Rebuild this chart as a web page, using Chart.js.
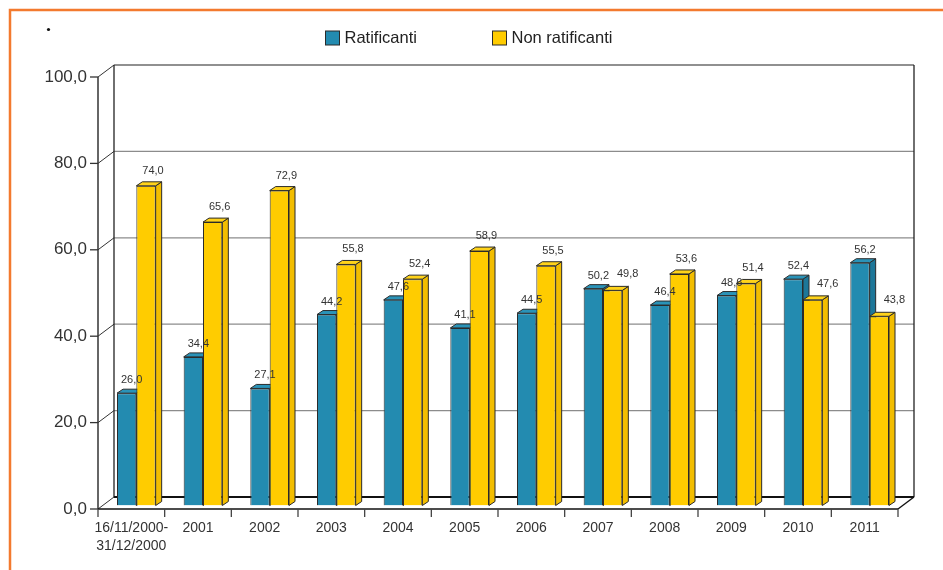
<!DOCTYPE html>
<html>
<head>
<meta charset="utf-8">
<script src="https://cdn.jsdelivr.net/npm/chart.js@4.4.0/dist/chart.umd.min.js"></script>
<style>
  html, body { margin: 0; padding: 0; background: #fff; }
  canvas { display: block; }
</style>
</head>
<body>
<canvas id="grafico" width="943" height="570"></canvas>
<script>
// dati
const categorie = [["16/11/2000-", "31/12/2000"], "2001", "2002", "2003", "2004", "2005", "2006", "2007", "2008", "2009", "2010", "2011"];
const ratificanti = [26.0, 34.4, 27.1, 44.2, 47.6, 41.1, 44.5, 50.2, 46.4, 48.6, 52.4, 56.2];
const nonRatificanti = [74.0, 65.6, 72.9, 55.8, 52.4, 58.9, 55.5, 49.8, 53.6, 51.4, 47.6, 43.8];
const tickAsseY = [0, 20, 40, 60, 80, 100];

const FONT = "'Liberation Sans', Arial, sans-serif";
const TESTO = "#333";
const BORDO = "#2b2b2b";

// offset prospettici rispetto al piano delle barre
const FRONTE = { dx: -5, dy: 3.5 };
const FONDO = { dx: 11, dy: -8.5 };
const PROF = { dx: 6, dy: -4 };

const colori = [
  { fronte: "#238bb0", lato: "#1d7799", sopra: "#2a93b8" },
  { fronte: "#ffcc00", lato: "#f2bd00", sopra: "#ffd31a" }
];

function formatVirgola(v) {
  return v.toFixed(1).replace(".", ",");
}

function linea(ctx, x1, y1, x2, y2) {
  ctx.beginPath();
  ctx.moveTo(x1, y1);
  ctx.lineTo(x2, y2);
  ctx.stroke();
}

// disegna lato e faccia superiore delle barre di un dataset
function disegna3D(chart, di) {
  const ctx = chart.ctx;
  const c = colori[di];
  ctx.save();
  ctx.strokeStyle = BORDO;
  ctx.lineWidth = 1;
  ctx.lineJoin = "round";
  chart.getDatasetMeta(di).data.forEach(bar => {
    const p = bar.getProps(["x", "y", "base", "width"], true);
    const l = p.x - p.width / 2, r = p.x + p.width / 2;
    // lato
    ctx.fillStyle = c.lato;
    ctx.beginPath();
    ctx.moveTo(r, p.y);
    ctx.lineTo(r + PROF.dx, p.y + PROF.dy);
    ctx.lineTo(r + PROF.dx, p.base + PROF.dy);
    ctx.lineTo(r, p.base);
    ctx.closePath();
    ctx.fill();
    ctx.stroke();
    // sopra
    ctx.fillStyle = c.sopra;
    ctx.beginPath();
    ctx.moveTo(l, p.y);
    ctx.lineTo(r, p.y);
    ctx.lineTo(r + PROF.dx, p.y + PROF.dy);
    ctx.lineTo(l + PROF.dx, p.y + PROF.dy);
    ctx.closePath();
    ctx.fill();
    ctx.stroke();
  });
  ctx.restore();
}

// cornice arancione, legenda e pareti 3D
const pluginCornice = {
  id: "cornice",
  beforeDatasetsDraw(chart) {
    const ctx = chart.ctx;
    const xs = chart.scales.x, ys = chart.scales.y;
    const fL = xs.left + FRONTE.dx, fR = xs.right + FRONTE.dx;
    const bL = xs.left + FONDO.dx, bR = xs.right + FONDO.dx;
    const y0 = ys.getPixelForValue(0), y100 = ys.getPixelForValue(100);
    ctx.save();

    // bordo arancione
    ctx.strokeStyle = "#f37a2e";
    ctx.lineWidth = 2.5;
    ctx.beginPath();
    ctx.moveTo(10, 570);
    ctx.lineTo(10, 10);
    ctx.lineTo(943, 10);
    ctx.stroke();

    // puntino
    ctx.fillStyle = "#111";
    ctx.beginPath();
    ctx.arc(48.5, 29.5, 1.6, 0, Math.PI * 2);
    ctx.fill();

    // griglia sulla parete di fondo + diagonali + tacche
    tickAsseY.forEach(v => {
      const py = ys.getPixelForValue(v);
      const yb = py + FONDO.dy, yf = py + FRONTE.dy;
      if (v > 0) {
        ctx.strokeStyle = v === 100 ? "#222" : "#8c8c8c";
        ctx.lineWidth = 1.2;
        linea(ctx, bL, yb, bR, yb);
      }
      ctx.strokeStyle = "#333";
      ctx.lineWidth = 1;
      linea(ctx, fL, yf, bL, yb);
      ctx.lineWidth = 1.3;
      linea(ctx, fL - 8, yf, fL, yf);
    });

    // pareti
    ctx.strokeStyle = "#222";
    ctx.lineWidth = 1.3;
    linea(ctx, bL, y100 + FONDO.dy, bL, y0 + FONDO.dy);
    linea(ctx, bR, y100 + FONDO.dy, bR, y0 + FONDO.dy);
    // asse verticale frontale
    ctx.strokeStyle = "#333";
    ctx.lineWidth = 1.5;
    linea(ctx, fL, y100 + FRONTE.dy, fL, y0 + FRONTE.dy);

    // pavimento
    ctx.strokeStyle = "#111";
    ctx.lineWidth = 2.2;
    linea(ctx, bL, y0 + FONDO.dy, bR, y0 + FONDO.dy);
    ctx.lineWidth = 1.4;
    linea(ctx, fL, y0 + FRONTE.dy, fR, y0 + FRONTE.dy);
    linea(ctx, fR, y0 + FRONTE.dy, bR, y0 + FONDO.dy);

    // tacche asse x ai confini delle categorie
    const passo = (xs.right - xs.left) / categorie.length;
    ctx.strokeStyle = "#444";
    ctx.lineWidth = 1.3;
    for (let i = 0; i <= categorie.length; i++) {
      const px = fL + i * passo;
      linea(ctx, px, y0 + FRONTE.dy, px, y0 + FRONTE.dy + 8);
    }

    // legenda
    const posLegenda = [325.5, 492.5];
    ctx.font = "16.5px " + FONT;
    ctx.textBaseline = "middle";
    ctx.textAlign = "left";
    chart.data.datasets.forEach((ds, i) => {
      const x = posLegenda[i];
      ctx.fillStyle = colori[i].fronte;
      ctx.fillRect(x, 31, 14, 14);
      ctx.strokeStyle = BORDO;
      ctx.lineWidth = 1;
      ctx.strokeRect(x, 31, 14, 14);
      ctx.fillStyle = "#222";
      ctx.fillText(ds.label, x + 19, 38.5);
    });

    ctx.restore();
  },

  // Chart.js disegna prima il dataset 1 (giallo), poi lo 0 (blu):
  // le facce 3D del blu vanno sotto il fronte giallo
  beforeDatasetDraw(chart, args) {
    if (args.index === 1) disegna3D(chart, 0);
  },

  afterDatasetDraw(chart, args) {
    if (args.index === 1) disegna3D(chart, 1);
  },

  // etichette dei valori
  afterDatasetsDraw(chart) {
    const ctx = chart.ctx;
    ctx.save();
    ctx.font = "11px " + FONT;
    ctx.fillStyle = TESTO;
    ctx.textAlign = "center";
    ctx.textBaseline = "alphabetic";
    chart.data.datasets.forEach((ds, di) => {
      const meta = chart.getDatasetMeta(di);
      meta.data.forEach((bar, i) => {
        let dx = 5, dy = -10;
        if (di === 1) {
          if (ratificanti[i] >= nonRatificanti[i] - 1) { dx = 15; dy = -13; }
          else { dx = 7; dy = -12; }
        }
        ctx.fillText(formatVirgola(ds.data[i]), bar.x + dx, bar.y + dy);
      });
    });
    ctx.restore();
  }
};

new Chart(document.getElementById("grafico"), {
  type: "bar",
  data: {
    labels: categorie,
    datasets: [
      {
        label: "Ratificanti",
        data: ratificanti,
        backgroundColor: colori[0].fronte,
        borderColor: BORDO,
        borderWidth: 1
      },
      {
        label: "Non ratificanti",
        data: nonRatificanti,
        backgroundColor: colori[1].fronte,
        borderColor: BORDO,
        borderWidth: 1
      }
    ]
  },
  options: {
    responsive: false,
    animation: false,
    devicePixelRatio: 1,
    layout: { padding: { left: 0, right: 40, top: 73.5, bottom: 0 } },
    datasets: {
      bar: { categoryPercentage: 0.58, barPercentage: 1 }
    },
    plugins: {
      legend: { display: false },
      tooltip: { enabled: false }
    },
    scales: {
      x: {
        grid: { display: false, drawTicks: false },
        border: { display: false },
        ticks: {
          color: TESTO,
          font: { family: FONT, size: 14, lineHeight: 1.25 },
          labelOffset: FRONTE.dx,
          padding: 14,
          maxRotation: 0,
          autoSkip: false
        },
        afterFit(scale) { scale.height = 64.5; }
      },
      y: {
        min: 0,
        max: 100,
        grid: { display: false, drawTicks: false },
        border: { display: false },
        ticks: {
          stepSize: 20,
          color: TESTO,
          font: { family: FONT, size: 17 },
          padding: 16,
          labelOffset: FRONTE.dy,
          callback: v => formatVirgola(v)
        },
        afterFit(scale) { scale.width = 103; }
      }
    }
  },
  plugins: [pluginCornice]
});
</script>
</body>
</html>
